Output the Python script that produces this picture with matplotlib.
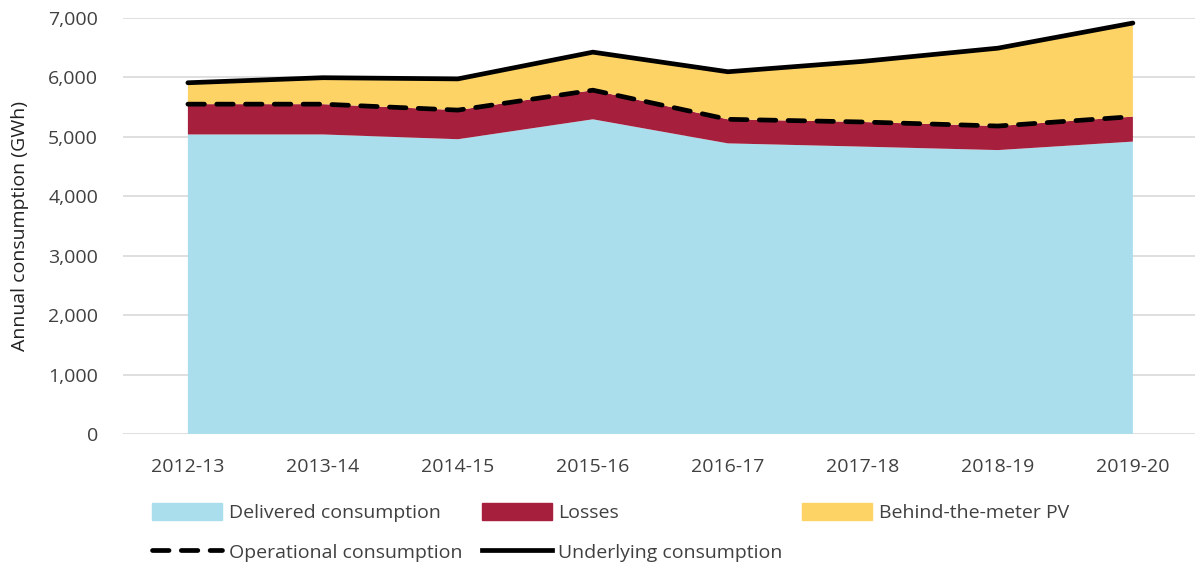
'''Stacked area chart of annual consumption components with
operational and underlying consumption lines'''

import matplotlib
matplotlib.use("Agg")
import matplotlib.pyplot as plt
from matplotlib.patches import Patch
from matplotlib.lines import Line2D
from matplotlib.ticker import FuncFormatter

plt.rcParams['font.family'] = ['Open Sans', 'DejaVu Sans']

years = ["2012-13", "2013-14", "2014-15", "2015-16",
         "2016-17", "2017-18", "2018-19", "2019-20"]
delivered = [5040, 5040, 4960, 5295, 4890, 4835, 4777, 4920]
operational = [5550, 5550, 5450, 5785, 5295, 5250, 5182, 5340]
underlying = [5910, 5995, 5975, 6425, 6095, 6270, 6492, 6915]

losses = [o - d for o, d in zip(operational, delivered)]
btm_pv = [u - o for u, o in zip(underlying, operational)]

c_deliv = '#abdeec'
c_loss = '#a6203e'
c_pv = '#fed366'
txt = '#404040'

x = list(range(len(years)))

fig = plt.figure(figsize=(11.95, 5.69), dpi=100)
ax = fig.add_axes([0.103, 0.2373, 0.897, 0.7311])

ax.stackplot(x, delivered, losses, btm_pv,
             colors=[c_deliv, c_loss, c_pv], linewidth=0, zorder=2)
ax.plot(x, operational, color='black', lw=3.4, dashes=(3.5, 2.6),
        dash_capstyle='round', zorder=3)
ax.plot(x, underlying, color='black', lw=3.4, solid_capstyle='round',
        zorder=3)

ax.set_xlim(-0.48, 7.46)
ax.set_ylim(0, 7000)
ax.set_yticks(range(0, 7001, 1000))
ax.yaxis.set_major_formatter(FuncFormatter(lambda v, p: '{:,.0f}'.format(v)))
ax.set_xticks(x)
ax.set_xticklabels(years)
ax.grid(axis='y', color='#d9d9d9', lw=1.2, zorder=0)
ax.set_axisbelow(True)
for s in ax.spines.values():
    s.set_visible(False)
ax.tick_params(axis='both', length=0, labelsize=14, colors=txt)
ax.tick_params(axis='y', pad=18)
ax.tick_params(axis='x', pad=17)
ax.set_ylabel('Annual consumption (GWh)', fontsize=14, color='#222222',
              labelpad=14)

handles = [Patch(color=c_deliv), Line2D([], [], color='black', lw=3.4,
                                        dashes=(3.5, 2.6), dash_capstyle='round'),
           Patch(color=c_loss), Line2D([], [], color='black', lw=3.4),
           Patch(color=c_pv)]
labels = ['Delivered consumption', 'Operational consumption',
          'Losses', 'Underlying consumption', 'Behind-the-meter PV']
fig.legend(handles, labels, ncol=3, loc='upper left',
           bbox_to_anchor=(0.127, 0.116), frameon=False, fontsize=14,
           handlelength=3.6, handleheight=1.0, handletextpad=0.35,
           columnspacing=1.0, labelspacing=1.05, labelcolor=txt,
           borderaxespad=0, borderpad=0)

fig.savefig('out.png', dpi=100)
